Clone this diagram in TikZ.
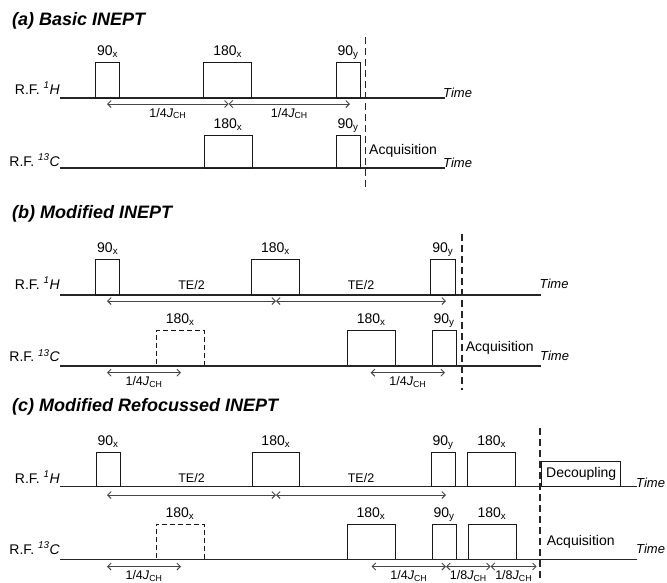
\documentclass[tikz,border=0pt]{standalone}
\usepackage{fontspec}
\setmainfont{Liberation Sans}
\usetikzlibrary{arrows.meta,calc}
\newcommand\mkpulse[7]{%
  \node[pulse,#7,minimum width={(#3-#2)*1pt},minimum height={(#4-#5)*1pt}] (#1) at ({(#2+#3)/2},{(#4+#5)/2}) {};
  \node[plab] (#1l) at ([yshift=7pt]#1.north) {#6};
}
\begin{document}
\begin{tikzpicture}[x=1pt,y=-1pt,
  axis/.style={line width=1.2pt,draw=black!85},
  pulse/.style={draw=black!90,line width=1pt,inner sep=0pt,outer sep=0pt,rectangle},
  dpulse/.style={dash pattern=on 5pt off 3pt},
  plab/.style={anchor=base,font=\fontsize{14}{16}\selectfont,inner sep=0pt},
  txt/.style={font=\fontsize{14}{16}\selectfont,inner sep=0pt},
  rf/.style={anchor=base east,font=\fontsize{14}{16}\selectfont,inner sep=0pt},
  timelab/.style={anchor=base west,font=\fontsize{13}{15}\selectfont\itshape,inner sep=0pt},
  title/.style={anchor=base west,font=\fontsize{18}{21}\selectfont\bfseries\itshape,inner sep=0pt},
  dimarr/.style={{Straight Barb[length=3.5pt,width=7pt]}-{Straight Barb[length=3.5pt,width=7pt]},line width=0.9pt,draw=black!72},
  dimlab/.style={anchor=base,font=\fontsize{12.5}{14}\selectfont,inner sep=0pt},
  vdash/.style={line width=1.3pt,draw=black!85,dash pattern=on 7pt off 4pt}]
\useasboundingbox (0,0) rectangle (667,582);
\def\J{1/4\textit{J}\textsubscript{CH}}
\def\JJ{1/8\textit{J}\textsubscript{CH}}
% ---------------- (a)
\node[title] (ta) at (12,25) {(a) Basic INEPT};
\coordinate (aHs) at (60,98); \coordinate (aHe) at (445,98);
\coordinate (aCs) at (60,168); \coordinate (aCe) at (445,168);
\draw[axis] (aHs) -- (aHe);
\draw[axis] (aCs) -- (aCe);
\node[rf] (aHr) at (60,94) {R.F. \textsuperscript{\textit{1}}\textit{H}};
\node[rf] (aCr) at (60,166) {R.F. \textsuperscript{\textit{13}}\textit{C}};
\node[timelab] (aHt) at (443,97) {Time};
\node[timelab] (aCt) at (443,167) {Time};
\mkpulse{aH1}{95.7}{119.3}{98}{62}{90\textsubscript{x}}{}
\mkpulse{aH2}{203.7}{251.7}{98}{62}{180\textsubscript{x}}{}
\mkpulse{aH3}{336}{360.3}{98}{62}{90\textsubscript{y}}{}
\mkpulse{aC1}{204}{252}{168}{135}{180\textsubscript{x}}{}
\mkpulse{aC2}{336}{360.3}{168}{135}{90\textsubscript{y}}{}
\coordinate (aDt) at (365.5,37); \coordinate (aDb) at (365.5,190);
\draw[vdash] (aDt) -- (aDb);
\node[txt,anchor=base west] (aAq) at (369,154) {Acquisition};
\coordinate (a1) at (107,104); \coordinate (a2) at (228.7,104); \coordinate (a3) at (350,104);
\draw[dimarr] (a1) -- (a2);
\draw[dimarr] (a2) -- (a3);
\node[dimlab] (al1) at ([yshift=-13pt]$(a1)!0.5!(a2)$) {\J};
\node[dimlab] (al2) at ([yshift=-13pt]$(a2)!0.5!(a3)$) {\J};
% ---------------- (b)
\node[title] (tb) at (12,218) {(b) Modified INEPT};
\coordinate (bHs) at (60,295); \coordinate (bHe) at (540.7,295);
\coordinate (bCs) at (60,366); \coordinate (bCe) at (540.7,366);
\draw[axis] (bHs) -- (bHe);
\draw[axis] (bCs) -- (bCe);
\node[rf] (bHr) at (60,289) {R.F. \textsuperscript{\textit{1}}\textit{H}};
\node[rf] (bCr) at (60,361.5) {R.F. \textsuperscript{\textit{13}}\textit{C}};
\node[timelab] (bHt) at (539.5,288) {Time};
\node[timelab] (bCt) at (540,360) {Time};
\mkpulse{bH1}{95.7}{119.7}{295}{259}{90\textsubscript{x}}{}
\mkpulse{bH2}{251.7}{299.3}{295}{259}{180\textsubscript{x}}{}
\mkpulse{bH3}{430.7}{455}{295}{259}{90\textsubscript{y}}{}
\mkpulse{bC1}{156.3}{204}{366}{330}{180\textsubscript{x}}{dpulse}
\mkpulse{bC2}{347.3}{395}{366}{330}{180\textsubscript{x}}{}
\mkpulse{bC3}{432}{456}{366}{330}{90\textsubscript{y}}{}
\draw[axis] (bCs) -- (bCe);
\coordinate (bDt) at (462,234); \coordinate (bDb) at (462,390);
\draw[vdash] (bDt) -- (bDb);
\node[txt,anchor=base west] (bAq) at (465.7,351) {Acquisition};
\coordinate (b1) at (107,301); \coordinate (b2) at (276,301); \coordinate (b3) at (446,301);
\draw[dimarr] (b1) -- (b2);
\draw[dimarr] (b2) -- (b3);
\node[dimlab] (bl1) at ([yshift=12pt]$(b1)!0.5!(b2)$) {TE/2};
\node[dimlab] (bl2) at ([yshift=12pt]$(b2)!0.5!(b3)$) {TE/2};
\coordinate (b4) at (107,372.7); \coordinate (b5) at (181,372.7);
\coordinate (b6) at (370.7,372.7); \coordinate (b7) at (445,372.7);
\draw[dimarr] (b4) -- (b5);
\draw[dimarr] (b6) -- (b7);
\node[dimlab] (bl3) at ([yshift=-13pt]$(b4)!0.5!(b5)$) {\J};
\node[dimlab] (bl4) at ([yshift=-13pt]$(b6)!0.5!(b7)$) {\J};
% ---------------- (c)
\node[title] (tc) at (12,411.5) {(c) Modified Refocussed INEPT};
\coordinate (cHs) at (60,486.7); \coordinate (cHe) at (636.7,486.7);
\coordinate (cCs) at (60,559.3); \coordinate (cCe) at (636.7,559.3);
\draw[axis] (cHs) -- (cHe);
\draw[axis] (cCs) -- (cCe);
\node[rf] (cHr) at (60,483) {R.F. \textsuperscript{\textit{1}}\textit{H}};
\node[rf] (cCr) at (60,554) {R.F. \textsuperscript{\textit{13}}\textit{C}};
\node[timelab] (cHt) at (636,487.5) {Time};
\node[timelab] (cCt) at (636,553) {Time};
\mkpulse{cH1}{96}{120}{486.7}{452}{90\textsubscript{x}}{}
\mkpulse{cH2}{252}{299.7}{486.7}{452}{180\textsubscript{x}}{}
\mkpulse{cH3}{431}{455.3}{486.7}{452}{90\textsubscript{y}}{}
\mkpulse{cH4}{467.7}{515.7}{486.7}{452}{180\textsubscript{x}}{}
\node[pulse,minimum width=79pt,minimum height=25pt,font=\fontsize{14}{16}\selectfont] (cDec) at (581.2,474.2) {Decoupling};
\mkpulse{cC1}{156}{204}{559.3}{524.3}{180\textsubscript{x}}{dpulse}
\mkpulse{cC2}{347}{395}{559.3}{524.3}{180\textsubscript{x}}{}
\mkpulse{cC3}{432}{456}{559.3}{524.3}{90\textsubscript{y}}{}
\mkpulse{cC4}{468}{516}{559.3}{524.3}{180\textsubscript{x}}{}
\draw[axis] (cCs) -- (cCe);
\coordinate (cDt) at (540,428); \coordinate (cDb) at (540,582);
\draw[vdash] (cDt) -- (cDb);
\node[txt,anchor=base west] (cAq) at (546.7,545) {Acquisition};
\coordinate (c1) at (107,495); \coordinate (c2) at (276,495); \coordinate (c3) at (446,495);
\draw[dimarr] (c1) -- (c2);
\draw[dimarr] (c2) -- (c3);
\node[dimlab] (cl1) at ([yshift=13pt]$(c1)!0.5!(c2)$) {TE/2};
\node[dimlab] (cl2) at ([yshift=13pt]$(c2)!0.5!(c3)$) {TE/2};
\coordinate (c4) at (107,566.5); \coordinate (c5) at (181,566.5);
\coordinate (c6) at (371.7,566.5); \coordinate (c7) at (446,566.5);
\coordinate (c8) at (490.7,566.5); \coordinate (c9) at (536.7,566.5);
\draw[dimarr] (c4) -- (c5);
\draw[dimarr] (c6) -- (c7);
\draw[dimarr] (c7) -- (c8);
\draw[dimarr] (c8) -- (c9);
\node[dimlab] (cl3) at ([yshift=-13pt]$(c4)!0.5!(c5)$) {\J};
\node[dimlab] (cl4) at ([yshift=-13pt]$(c6)!0.5!(c7)$) {\J};
\node[dimlab] (cl5) at ([yshift=-13pt]$(c7)!0.5!(c8)$) {\JJ};
\node[dimlab] (cl6) at ([yshift=-13pt]$(c8)!0.5!(c9)$) {\JJ};
\end{tikzpicture}
\end{document}
